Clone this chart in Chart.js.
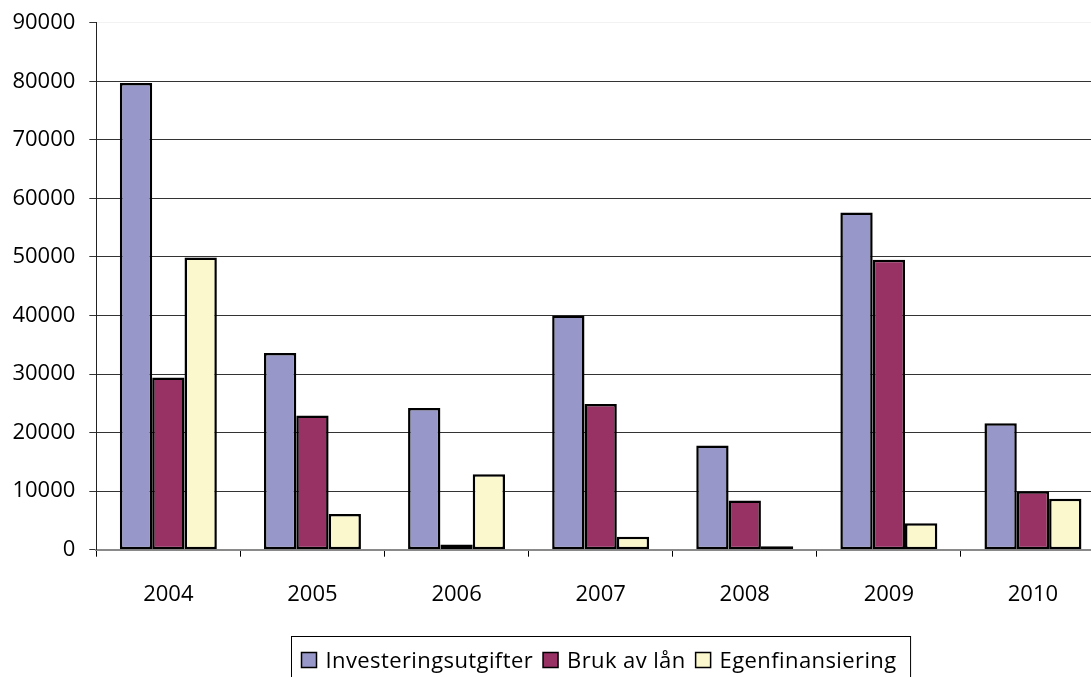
<!DOCTYPE html>
<html>
<head>
<meta charset="utf-8">
<title>Investeringsutgifter, bruk av lån og egenfinansiering 2004–2010</title>
<script src="https://cdn.jsdelivr.net/npm/chart.js@4/dist/chart.umd.min.js"></script>
<style>
  html, body { margin: 0; padding: 0; background: #fff; overflow: hidden; }
  #wrap { width: 1105px; height: 677px; }
</style>
</head>
<body>
<div id="wrap"><canvas id="chart" width="1105" height="677"></canvas></div>
<script>
// Years on the category axis
const years = ['2004', '2005', '2006', '2007', '2008', '2009', '2010'];

// Series (kroner, thousands)
const investeringsutgifter = [79700, 33600, 24200, 40000, 17800, 57600, 21600];
const brukAvLan            = [29400, 22900,   900, 24900,  8400, 49500, 10000];
const egenfinansiering     = [49900,  6100, 12900,  2200,   600,  4500,  8700];

// Series names for the legend
const seriesNames = ['Investeringsutgifter', 'Bruk av lån', 'Egenfinansiering'];

// Value axis range
const yMin = 0, yMax = 90000, yStep = 10000;

const FONT = '"Open Sans", "Liberation Sans", sans-serif';

// Legend drawn as a framed row of swatches, centred under the plot
const framedLegend = {
  id: 'framedLegend',
  afterDraw(chart) {
    const ctx = chart.ctx;
    const area = chart.chartArea;
    ctx.save();
    ctx.font = '22px ' + FONT;
    if ('letterSpacing' in ctx) ctx.letterSpacing = '0.4px';
    const box = 15, gapBoxText = 9, gapItems = 10, padL = 10, padR = 14;
    const items = chart.data.datasets.map(ds => ({
      label: ds.label, fill: ds.backgroundColor, w: ctx.measureText(ds.label).width
    }));
    let inner = 0;
    items.forEach((it, i) => { inner += box + gapBoxText + it.w + (i < items.length - 1 ? gapItems : 0); });
    const total = padL + inner + padR;
    const left = Math.round((area.left + area.right) / 2 - total / 2) + 0.5;
    const top = 636.5;
    ctx.strokeStyle = '#000';
    ctx.lineWidth = 1;
    ctx.strokeRect(left, top, total, 80);
    let x = left + padL;
    const cy = 660;
    items.forEach(it => {
      ctx.fillStyle = it.fill;
      ctx.fillRect(x, cy - box / 2, box, box);
      ctx.strokeStyle = '#000';
      ctx.lineWidth = 1.5;
      ctx.strokeRect(x, cy - box / 2, box, box);
      x += box + gapBoxText;
      ctx.fillStyle = '#000';
      ctx.textBaseline = 'middle';
      ctx.textAlign = 'left';
      ctx.fillText(it.label, x, cy + 1.5);
      x += it.w + gapItems;
    });
    ctx.restore();
  }
};

new Chart(document.getElementById('chart'), {
  type: 'bar',
  data: {
    labels: years,
    datasets: [
      { label: seriesNames[0], data: investeringsutgifter, backgroundColor: '#9797c9' },
      { label: seriesNames[1], data: brukAvLan,            backgroundColor: '#983264' },
      { label: seriesNames[2], data: egenfinansiering,     backgroundColor: '#fbf8cd' }
    ]
  },
  options: {
    responsive: false,
    animation: false,
    devicePixelRatio: 1,
    layout: { padding: { top: 22.7, left: 0, right: 0, bottom: 0 } },
    datasets: {
      bar: {
        borderColor: '#000',
        borderWidth: 2.5,
        borderSkipped: false,
        categoryPercentage: 0.673,
        barPercentage: 1
      }
    },
    plugins: {
      legend: { display: false },
      tooltip: { enabled: false }
    },
    scales: {
      x: {
        offset: true,
        grid: {
          offset: true,
          drawOnChartArea: false,
          drawTicks: true,
          tickLength: 7,
          tickColor: '#000',
          color: '#000'
        },
        border: { display: true, color: '#8a8a8a', width: 2 },
        ticks: {
          color: '#000',
          font: { family: FONT, size: 22 },
          padding: 25,
          maxRotation: 0
        },
        afterFit(scale) { scale.height = 127.3; }
      },
      y: {
        min: yMin,
        max: yMax,
        grid: {
          color: ctx => (ctx.tick && ctx.tick.value === yMax) ? '#f2f2f2' : '#333',
          tickColor: '#333',
          tickLength: 7,
          lineWidth: 1
        },
        border: { display: true, color: '#222', width: 1 },
        ticks: {
          stepSize: yStep,
          color: '#000',
          font: { family: FONT, size: 22 },
          padding: 14,
          callback: v => String(v)
        },
        afterFit(scale) {
          scale.width = 96.3;
          scale.paddingTop = 0;
          scale.paddingBottom = 0;
        }
      }
    }
  },
  plugins: [framedLegend]
});
</script>
</body>
</html>
